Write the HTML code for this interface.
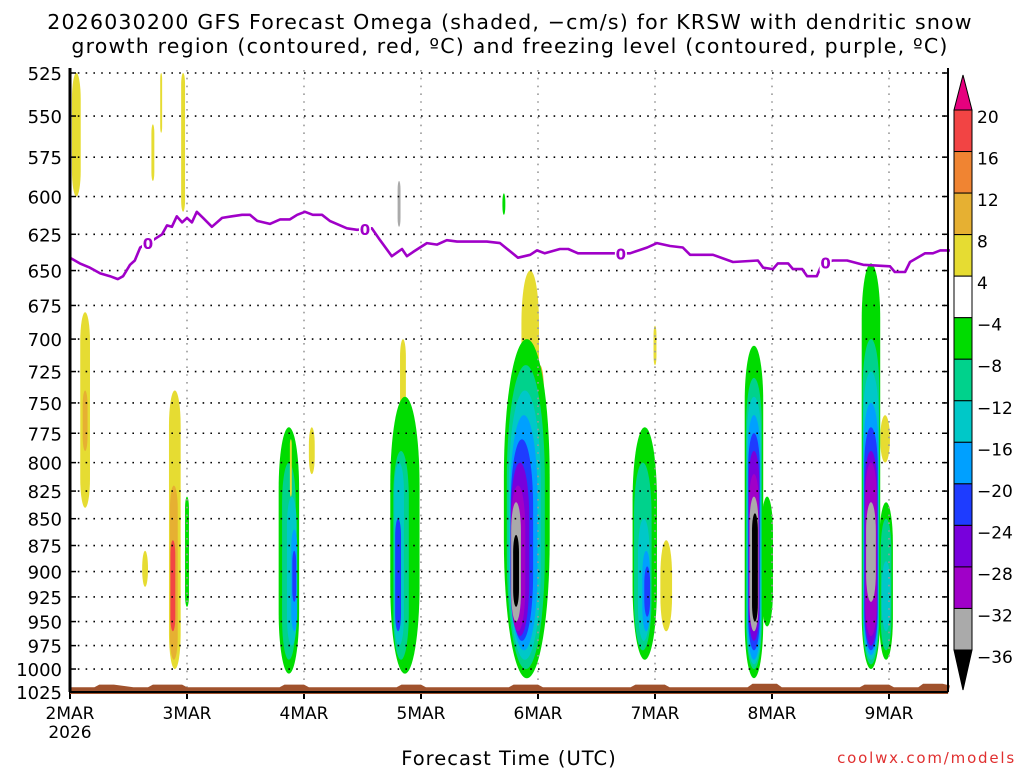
<!DOCTYPE html>
<html><head><meta charset="utf-8">
<style>
html,body{margin:0;padding:0;background:#fff;}
svg{display:block;font-family:"DejaVu Sans","Liberation Sans",sans-serif;}
</style></head>
<body>
<svg id="chart" width="1024" height="768" viewBox="0 0 1024 768" xmlns="http://www.w3.org/2000/svg">
<text x="510" y="29" font-size="20.5" letter-spacing="1.2" text-anchor="middle">2026030200 GFS Forecast Omega (shaded, −cm/s) for KRSW with dendritic snow</text>
<text x="510" y="53" font-size="20.5" letter-spacing="1.2" text-anchor="middle">growth region (contoured, red, ºC) and freezing level (contoured, purple, ºC)</text>
<g id="plot"></g>
<text x="509" y="765" font-size="19.5" letter-spacing="1" text-anchor="middle">Forecast Time (UTC)</text>
<text x="1016" y="763" font-size="15" letter-spacing="1.8" fill="#e03030" text-anchor="end">coolwx.com/models</text>
</svg>
<script>
const pressureTicks=[525,550,575,600,625,650,675,700,725,750,775,800,825,850,875,900,925,950,975,1000,1025];
const dayLabels=["2MAR","3MAR","4MAR","5MAR","6MAR","7MAR","8MAR","9MAR"];
const cbLevels=[20,16,12,8,4,-4,-8,-12,-16,-20,-24,-28,-32,-36];
const frzHour=[0,2,4.1,6.2,8.2,9.8,10.9,12.3,13.3,14.4,17,18.9,19.9,20.9,21.9,23,24,25,26,27.3,29.1,31.2,33.2,35.3,36.9,38.4,41,43.1,45.1,46.6,48.2,49.8,51.7,53.3,56.8,58.9,61.9,63.6,66,68.1,69.1,70.4,71.8,73.2,75.3,77.3,79.4,85.5,88.2,91.9,94.4,95.8,97.4,100.5,102.2,104.2,108.1,110.8,114.9,118.4,120.4,123.1,125.7,127.2,131.9,136,141.1,142.2,144.2,145.2,147.3,148.3,150.2,151.2,153.2,154.3,156.5,159.4,162.7,168.2,169.2,171.3,172.3,175.4,177,178.5,180.5];
const frzP=[641,645,648,652,654,656,654,646,643,634,629,625,619,620,613,617,614,617,610,614,620,614,613,612,612,616,618,615,615,612,610,612,612,616,621,622,621,629,640,635,640,637,634,631,632,629,630,630,631,641,639,636,638,635,635,638,638,638,638,634,631,633,634,639,639,644,643,648,649,645,645,649,649,654,654,645,643,643,646,647,651,651,644,638,638,636,636];
const frzLabelHour=[16,60.5,113,155];
const sfcHour=[0,5,6,9,13,16,17,23,24,43,44,48,49,67,68,72,73,90,91,96,97,115,116,122,123,139,140,145,146,162,163,168,169,174,175,179,180.5];
const sfcP=[1020,1020,1017,1017,1020,1020,1017,1017,1020,1020,1017,1017,1020,1020,1017,1017,1020,1020,1017,1017,1020,1020,1017,1017,1020,1020,1016,1016,1020,1020,1017,1017,1020,1020,1016,1016,1018];
const blobHour=[1.3,17,18.7,23.2,3.1,3.1,15.4,21.5,21.3,21.1,24,44.9,44.9,45.5,46,46,49.6,45.3,68.3,68.7,67.9,67.5,67.3,94.4,96.4,93.7,93.5,93.3,93.1,92.7,92.3,91.9,91.5,91.5,117.9,117.5,117.7,118.2,118.4,122.3,143,140.3,140.3,140.3,140.3,140.3,140.3,140.3,140.3,140.5,167.2,164.3,164.3,164.3,164.3,164.3,164.3,164.3,164.3,167.4,167.4,167.4,89,67.5,120];
const blobHalf=[0.9,0.3,0.2,0.4,1.0,0.5,0.6,1.2,0.8,0.5,0.4,2.1,1.4,1.0,0.6,0.4,0.6,0.2,0.6,3.0,1.6,1.0,0.6,1.8,0.8,4.7,3.9,3.3,2.8,2.3,1.9,1.5,1.0,0.6,2.5,1.8,1.2,0.8,0.6,1.2,1.2,1.9,1.6,1.5,1.3,1.2,1.1,1.0,0.9,0.6,1.0,1.9,1.7,1.6,1.5,1.4,1.3,1.2,1.0,1.4,1.1,0.9,0.3,0.3,0.3];
const blobTop=[525,555,525,525,680,740,880,740,820,870,830,770,800,830,860,880,770,780,700,745,790,800,850,650,720,700,720,740,760,780,800,820,835,865,770,800,850,880,895,870,830,705,730,745,760,775,790,810,830,845,760,645,700,725,750,770,790,800,835,835,850,890,598,590,690];
const blobBot=[600,590,560,610,840,790,915,1000,990,960,935,1005,990,975,960,930,810,830,790,1005,990,975,960,790,800,1010,1000,990,980,970,965,960,950,935,990,980,970,960,945,960,955,1010,1000,995,990,980,970,960,960,950,800,1000,995,990,985,980,975,965,930,990,980,960,612,620,720];
const blobValue=[6,6,6,6,6,10,6,6,10,18,-6,-6,-10,-14,-18,-22,6,6,6,-6,-10,-14,-22,6,10,-6,-10,-14,-18,-22,-26,-30,-34,-38,-6,-10,-14,-18,-22,6,-6,-6,-10,-14,-18,-22,-26,-30,-34,-38,6,-6,-10,-14,-18,-22,-26,-30,-34,-6,-10,-14,-6,-34,6];

const NS='http://www.w3.org/2000/svg';
const X0=70,X1=948,Y0=73,KLOG=925,PXH=117/24;
const xs=h=>X0+h*PXH;
const ys=p=>Y0+Math.log(p/525)*KLOG;
function colorFor(v){
  if(v>20)return'#e6007e';if(v>16)return'#f24444';if(v>12)return'#f08432';if(v>8)return'#e6b032';if(v>4)return'#e6dc32';
  if(v>-4)return'#ffffff';if(v>-8)return'#00dc00';if(v>-12)return'#00d28c';if(v>-16)return'#00c8c8';if(v>-20)return'#00a0ff';
  if(v>-24)return'#1e3cff';if(v>-28)return'#7800dc';if(v>-32)return'#a000c8';if(v>-36)return'#aaaaaa';return'#000000';
}
function mk(tag,attrs,parent){const e=document.createElementNS(NS,tag);for(const k in attrs)e.setAttribute(k,attrs[k]);parent.appendChild(e);return e;}
const plot=document.getElementById('plot');
const svg=document.getElementById('chart');

blobHour.forEach((h,i)=>{
  const cx=xs(h),hw=blobHalf[i]*PXH,yt=ys(blobTop[i]),yb=ys(blobBot[i]);
  const r=mk('rect',{x:cx-hw,y:yt,width:2*hw,height:yb-yt,rx:hw,ry:Math.min(hw*6,(yb-yt)/2),fill:colorFor(blobValue[i])},plot);
  
  
});

pressureTicks.forEach((p,i)=>{
  const y=ys(p);
  const l=mk('line',{x1:X0,x2:X1,y1:y,y2:y,stroke:'#000','stroke-width':1.6,'stroke-dasharray':'1.6 6.2'},plot);
  
  
  const t=mk('text',{x:62,y:y+7,'font-size':18,'text-anchor':'end'},svg);
  t.textContent=p;
  
  
  mk('line',{x1:X0,x2:X0+6,y1:y,y2:y,stroke:'#000','stroke-width':1.5},plot);
  mk('line',{x1:X1-6,x2:X1,y1:y,y2:y,stroke:'#000','stroke-width':1.5},plot);
});
dayLabels.forEach((d,i)=>{
  const x=xs(i*24);
  if(i>0){
    const l=mk('line',{x1:x,x2:x,y1:Y0-3,y2:692,stroke:'#999','stroke-width':1.6,'stroke-dasharray':'1.6 6.2'},plot);
    
    
  }
  mk('line',{x1:x,x2:x,y1:692,y2:699,stroke:'#000','stroke-width':2},plot);
  const t=mk('text',{x:x,y:719,'font-size':17,'text-anchor':'middle'},svg);
  t.textContent=d;
  
  
});
const yr=mk('text',{x:xs(0),y:738,'font-size':17,'text-anchor':'middle'},svg);
yr.textContent='2026';



let td='M'+xs(sfcHour[0])+' 694';
sfcHour.forEach((h,i)=>{td+=' L'+xs(h).toFixed(1)+' '+ys(sfcP[i]).toFixed(1);});
td+=' L'+X1+' 694 Z';
const terr=mk('path',{d:td,fill:'#a0522d'},plot);



let fd='';
frzHour.forEach((h,i)=>{fd+=(i?' L':'M')+xs(h).toFixed(1)+' '+ys(frzP[i]).toFixed(1);});
const fl=mk('path',{d:fd,fill:'none',stroke:'#a000c8','stroke-width':2.6,'stroke-linejoin':'round'},plot);


frzLabelHour.forEach((h,i)=>{
  let j=0;while(j<frzHour.length-1&&frzHour[j+1]<h)j++;
  const f=(h-frzHour[j])/(frzHour[j+1]-frzHour[j]);
  const p=frzP[j]+f*(frzP[j+1]-frzP[j]);
  const x=xs(h),y=ys(p);
  mk('rect',{x:x-6,y:y-9,width:12,height:18,fill:'#fff'},plot);
  const t=mk('text',{x:x,y:y+6,'font-size':15,'font-weight':'bold',fill:'#a000c8','text-anchor':'middle'},plot);
  t.textContent='0';
  
  
});

mk('line',{x1:X0,x2:X0,y1:68,y2:692,stroke:'#000','stroke-width':3},plot);
mk('line',{x1:X1,x2:X1,y1:68,y2:692,stroke:'#000','stroke-width':2},plot);
mk('line',{x1:X0,x2:X1,y1:692,y2:692,stroke:'#000','stroke-width':2},plot);

const cb=mk('g',{},svg);


const CX0=954,CX1=972,CY0=110,STEP=(650-110)/13;
const cy=i=>CY0+i*STEP;
mk('polygon',{points:`${CX0},${CY0} ${CX1},${CY0} ${(CX0+CX1)/2},75`,fill:colorFor(22),stroke:'#000','stroke-width':1},cb);
for(let i=0;i<cbLevels.length-1;i++){
  const v=(cbLevels[i]+cbLevels[i+1])/2;
  const r=mk('rect',{x:CX0,y:cy(i),width:CX1-CX0,height:STEP,fill:colorFor(v),stroke:'#000','stroke-width':1},cb);
  
  
}
mk('polygon',{points:`${CX0},${cy(13)} ${CX1},${cy(13)} ${(CX0+CX1)/2},690`,fill:'#000',stroke:'#000','stroke-width':1},cb);
cbLevels.forEach((v,i)=>{
  const t=mk('text',{x:977,y:cy(i)+13,'font-size':17},cb);
  t.textContent=v<0?'−'+Math.abs(v):v;
  
  
});
</script>
</body></html>
